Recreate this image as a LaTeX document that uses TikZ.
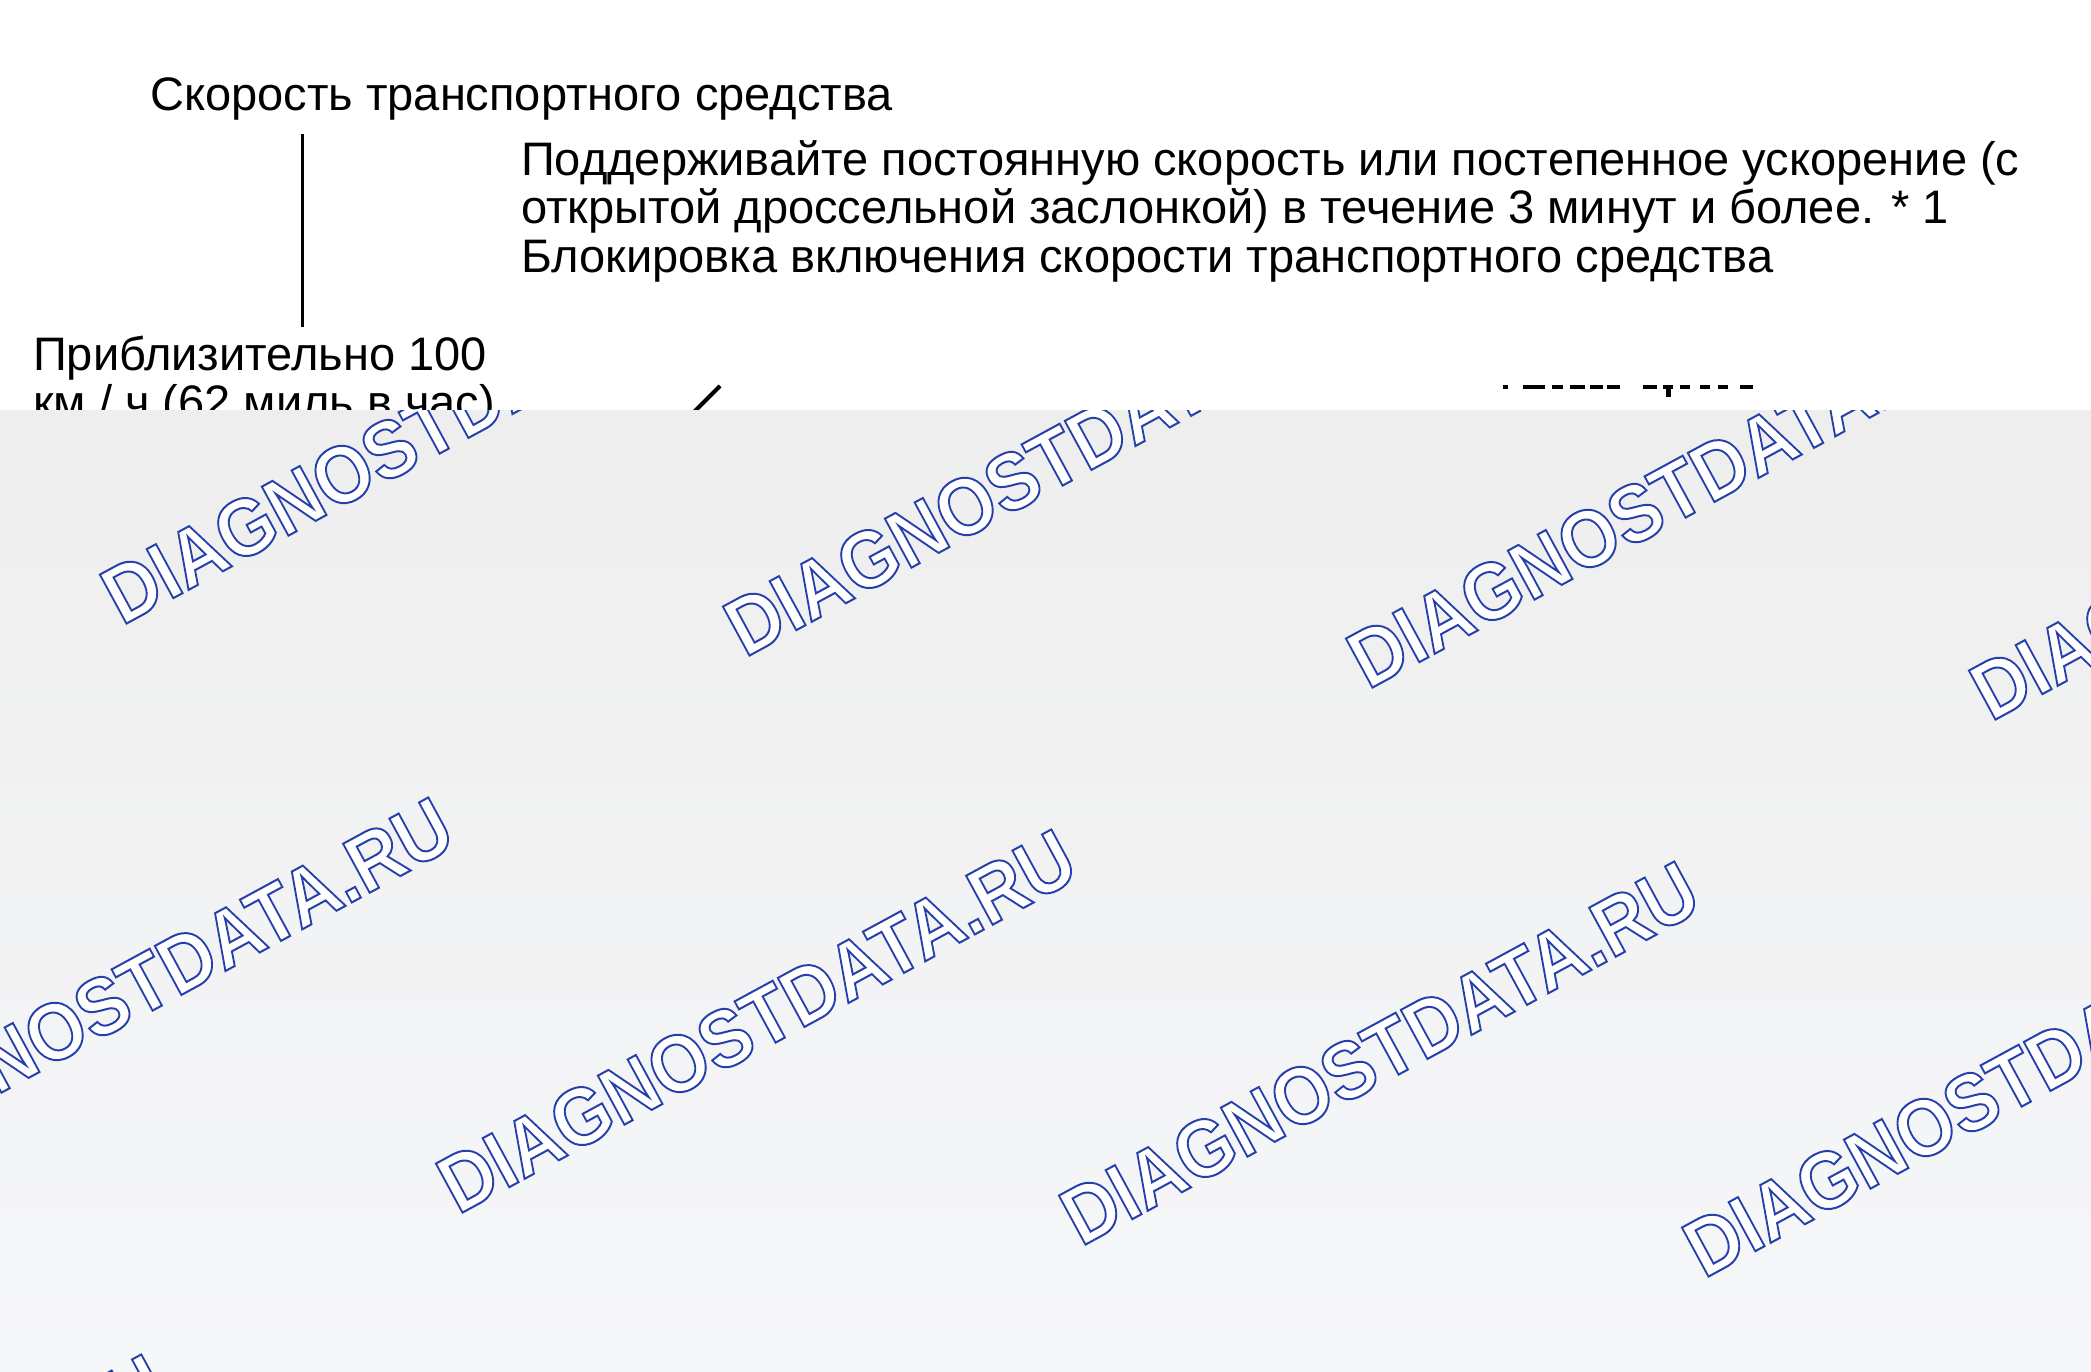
\documentclass[tikz,border=0pt]{standalone}
\usepackage{fontspec}
\setmainfont{Liberation Sans}
\newfontfamily\wmfont{Liberation Sans}
\newcommand\wmtext{\special{pdf:literal direct 2 Tr 2.0 w 0.15 0.25 0.67 RG 1 1 1 rg}DIAGNOSTDATA.RU\special{pdf:literal direct 0 Tr}}
\begin{document}
\begin{tikzpicture}[x=1pt,y=-1pt,
  txt/.style={anchor=base west,inner sep=0pt,font=\fontsize{47}{48.5}\selectfont},
  wm/.style={anchor=base west,inner sep=0pt,rotate=28.5,xscale=0.91,font=\wmfont\bfseries\fontsize{81}{81}\selectfont},
  frag/.style={fill=black,draw=none}]
\useasboundingbox (0,0) rectangle (2091,1371);
\fill[white] (0,0) rectangle (2091,1371);
% texts
\node[txt] (speed) at (150,110) {Скорость транспортного средства};
\node[txt] (keep1) at (521,175) {Поддерживайте постоянную скорость или постепенное ускорение (с};
\node[txt] (keep2) at (521,223.5) {открытой дроссельной заслонкой) в течение 3 минут и более. * 1};
\node[txt] (keep3) at (521,272) {Блокировка включения скорости транспортного средства};
\node[txt] (approx1) at (33,370) {Приблизительно 100};
\node[txt] (approx2) at (33,418.5) {км / ч (62 миль в час).};
% pointer lines
\coordinate (ltop) at (302,134);
\coordinate (lbot) at (302,327);
\draw[line width=3pt] (ltop) -- (lbot);
\coordinate (stop) at (720,386);
\coordinate (sbot) at (690,416);
\draw[line width=4pt] (stop) -- (sbot);
% remnants of covered text
\foreach \a/\b in {1503/1508,1523/1545,1552/1563,1570/1585,1590/1603,1607/1620,1643/1657,1663/1673,1680/1690,1700/1710,1718/1728,1740/1753}
  \fill[frag] (\a,385) rectangle (\b,388.5);
\fill[frag] (1666,385) rectangle (1670.5,397);
% grey overlay
\shade[top color={rgb,255:red,238;green,238;blue,238},middle color={rgb,255:red,234;green,234;blue,235},bottom color={rgb,255:red,246;green,247;blue,249}] (0,410.5) rectangle (2091,1371);
\begin{scope}
\clip (0,410.5) rectangle (2091,1371);
\foreach \i in {-2,...,3}{
  \foreach \j in {-1,...,3}{
    \node[wm] (wm\i\j) at ({122+\i*623+\j*336},{626+\i*32+\j*589}) {\wmtext};
  }
}
\end{scope}
\end{tikzpicture}
\end{document}
